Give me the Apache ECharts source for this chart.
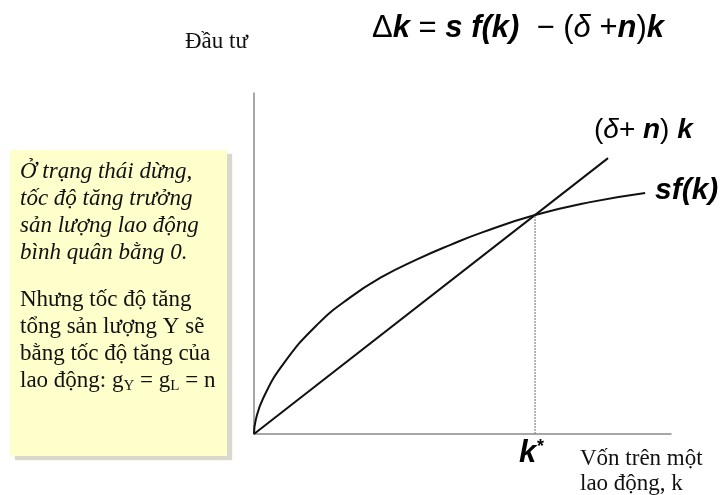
<!DOCTYPE html>
<html>
<head>
<meta charset="utf-8">
<script src="https://cdn.jsdelivr.net/npm/echarts@6/dist/echarts.min.js"></script>
<style>
  html, body { margin: 0; padding: 0; background: #fff; }
  #main { width: 725px; height: 495px; }
</style>
</head>
<body>
<div id="main"></div>
<script>
// k values and the saving curve sf(k)
var kVals = [0, 0.04, 0.22, 0.70, 1.51, 2.30, 3.09, 3.91, 4.70, 5.49, 6.74, 8.06, 9.38];
var sfVals = [0, 0.40, 1.05, 2.05, 3.20, 4.00, 4.62, 5.12, 5.54, 5.92, 6.42, 6.80, 7.07];
// break-even investment line (delta + n)k
var lineK = [0, 8.49];
var lineVals = [0, 8.09];
// steady state
var kStar = 6.74;
var yStar = 6.42;

var serif = '"Liberation Serif", "DejaVu Serif", serif';
var sans = '"Liberation Sans", Arial, sans-serif';

var boxLines1 = ['Ở trạng thái dừng,', 'tốc độ tăng trưởng', 'sản lượng lao động', 'bình quân bằng 0.'];
var boxLines2 = ['Nhưng tốc độ tăng', 'tổng sản lượng Y sẽ', 'bằng tốc độ tăng của'];

var chart = echarts.init(document.getElementById('main'));

var boxTexts = [];
boxLines1.forEach(function (t, i) {
    boxTexts.push({
        type: 'text', left: 20, top: 160 + i * 27, z: 5,
        style: { text: t, font: 'italic 23px ' + serif, fill: '#111' }
    });
});
boxLines2.forEach(function (t, i) {
    boxTexts.push({
        type: 'text', left: 20, top: 288 + i * 27, z: 5,
        style: { text: t, font: '23px ' + serif, fill: '#111' }
    });
});
boxTexts.push({
    type: 'text', left: 20, top: 369, z: 5,
    style: {
        text: 'lao động: g{s|Y} = g{s|L} = n',
        font: '23px ' + serif, fill: '#111',
        rich: { s: { fontSize: 15, fontFamily: serif, verticalAlign: 'bottom', padding: [12, 0, 0, 0] } }
    }
});

var option = {
    animation: false,
    backgroundColor: '#fff',
    grid: { left: 254, right: 54, top: 93, bottom: 61 },
    xAxis: {
        type: 'value', min: 0, max: 10,
        axisLine: { show: true, onZero: false, lineStyle: { color: '#8a8a8a', width: 1.5 } },
        axisTick: { show: false }, axisLabel: { show: false }, splitLine: { show: false }
    },
    yAxis: {
        type: 'value', min: 0, max: 10,
        axisLine: { show: true, onZero: false, lineStyle: { color: '#8a8a8a', width: 1.5 } },
        axisTick: { show: false }, axisLabel: { show: false }, splitLine: { show: false }
    },
    series: [
        {
            name: 'sf(k)', type: 'line', smooth: 0.5, symbol: 'none',
            lineStyle: { color: '#111', width: 2 },
            data: kVals.map(function (k, i) { return [k, sfVals[i]]; })
        },
        {
            name: '(δ+n)k', type: 'line', symbol: 'none',
            lineStyle: { color: '#111', width: 2 },
            data: lineK.map(function (k, i) { return [k, lineVals[i]]; })
        },
        {
            name: 'k*', type: 'line', symbol: 'none',
            lineStyle: { color: '#888', width: 1.2, type: [2, 1] },
            data: [[kStar, 0], [kStar, yStar]]
        }
    ],
    graphic: [
        {
            type: 'rect', shape: { x: 10, y: 150, width: 217, height: 306 },
            style: { fill: '#FFFFCC', shadowColor: 'rgba(150,140,110,0.35)', shadowOffsetX: 5, shadowOffsetY: 4, shadowBlur: 1 },
            z: 1
        },
        {
            type: 'text', left: 185, top: 30,
            style: { text: 'Đầu tư', font: '23px ' + serif, fill: '#111' }
        },
        {
            type: 'text', left: 372, top: 13,
            style: {
                text: 'Δ{b|k} = {b|s f(k)}  − ({i|δ} +{b|n}){b|k}',
                font: '31px ' + sans, fill: '#000',
                rich: {
                    b: { fontSize: 31, fontFamily: sans, fontWeight: 'bold', fontStyle: 'italic' },
                    i: { fontSize: 31, fontFamily: sans, fontStyle: 'italic' }
                }
            }
        },
        {
            type: 'text', left: 594, top: 116,
            style: {
                text: '({i|δ}+ {b|n}) {b|k}',
                font: '28px ' + sans, fill: '#000',
                rich: {
                    b: { fontSize: 28, fontFamily: sans, fontWeight: 'bold', fontStyle: 'italic' },
                    i: { fontSize: 28, fontFamily: sans, fontStyle: 'italic' }
                }
            }
        },
        {
            type: 'text', left: 655, top: 176,
            style: { text: 'sf(k)', font: 'italic bold 30px ' + sans, fill: '#000' }
        },
        {
            type: 'text', left: 519, top: 438,
            style: {
                text: 'k{s|*}',
                font: 'italic bold 31px ' + sans, fill: '#000',
                rich: { s: { fontSize: 18, fontFamily: sans, fontWeight: 'bold', fontStyle: 'italic', verticalAlign: 'top' } }
            }
        },
        {
            type: 'text', left: 580, top: 446,
            style: { text: 'Vốn trên một\nlao động, k', font: '23px ' + serif, fill: '#111', lineHeight: 25 }
        }
    ].concat(boxTexts)
};

chart.setOption(option);
</script>
</body>
</html>
